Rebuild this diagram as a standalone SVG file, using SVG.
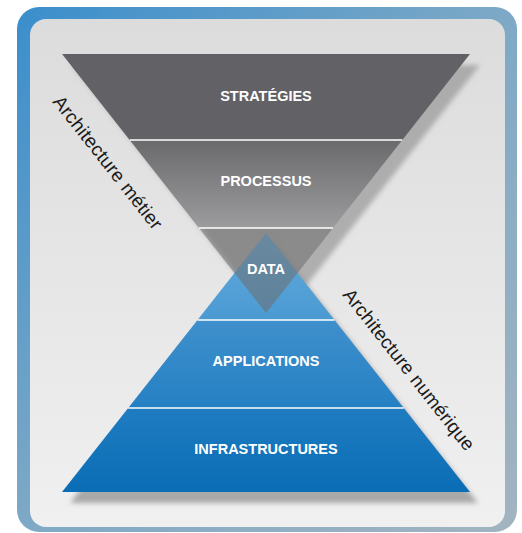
<svg xmlns="http://www.w3.org/2000/svg" width="522" height="533" viewBox="0 0 522 533">
<defs>
<linearGradient id="frameG" x1="0" y1="0" x2="1" y2="1">
<stop offset="0" stop-color="#3a8ecc"/>
<stop offset="0.5" stop-color="#7ea9c6"/>
<stop offset="1" stop-color="#a3b4c0"/>
</linearGradient>
<linearGradient id="panelG" x1="0" y1="0" x2="0" y2="1">
<stop offset="0" stop-color="#dcdcdc"/>
<stop offset="1" stop-color="#f0f0f0"/>
</linearGradient>
<linearGradient id="procG" x1="0" y1="140" x2="0" y2="228" gradientUnits="userSpaceOnUse">
<stop offset="0" stop-color="#6a6a6c"/>
<stop offset="1" stop-color="#9c9c9e"/>
</linearGradient>
<linearGradient id="dataTopG" x1="0" y1="233" x2="0" y2="320" gradientUnits="userSpaceOnUse">
<stop offset="0" stop-color="#64abdd"/>
<stop offset="1" stop-color="#4a9ad2"/>
</linearGradient>
<linearGradient id="appG" x1="0" y1="320" x2="0" y2="408" gradientUnits="userSpaceOnUse">
<stop offset="0" stop-color="#3f90cc"/>
<stop offset="1" stop-color="#2580c3"/>
</linearGradient>
<linearGradient id="infraG" x1="0" y1="408" x2="0" y2="492" gradientUnits="userSpaceOnUse">
<stop offset="0" stop-color="#1f7cc1"/>
<stop offset="1" stop-color="#0a6db5"/>
</linearGradient>
<filter id="blur" x="-10%" y="-10%" width="120%" height="120%">
<feGaussianBlur stdDeviation="2.5"/>
</filter>
</defs>
<style>
.lbl{font-family:"Liberation Sans",Arial,sans-serif;font-weight:bold;font-size:14.5px;fill:#ffffff;text-anchor:middle}
.side{font-family:"Liberation Sans",Arial,sans-serif;font-size:19px;fill:#1a1a1a}
.sep{stroke:#ffffff;stroke-width:1.5}
</style>
<g id="frame">
<rect x="17" y="7" width="500" height="525" rx="22" fill="url(#frameG)"/>
<rect x="30" y="19" width="475" height="508" rx="16" fill="url(#panelG)"/>
</g>
<g id="shadows" filter="url(#blur)">
<polygon points="72,65 480,65 276,324" fill="#8a8a8a" opacity="0.6"/>
<polygon points="274,243 478,503 70,503" fill="#8a8a8a" opacity="0.7"/>
</g>
<g id="strategies">
<polygon points="62,54 470,54 402.3,140 129.7,140" fill="#626165"/>
<text class="lbl" x="266" y="101">STRATÉGIES</text>
</g>
<g id="processus">
<polygon points="129.7,140 402.3,140 333,228 199,228" fill="url(#procG)"/>
<text class="lbl" x="266" y="186">PROCESSUS</text>
</g>
<g id="infrastructures">
<polygon points="128.2,408 403.8,408 470,492 62,492" fill="url(#infraG)"/>
<text class="lbl" x="266" y="454">INFRASTRUCTURES</text>
</g>
<g id="applications">
<polygon points="197.5,320 334.5,320 403.8,408 128.2,408" fill="url(#appG)"/>
<text class="lbl" x="266" y="366">APPLICATIONS</text>
</g>
<g id="data">
<polygon points="266,233 334.5,320 197.5,320" fill="url(#dataTopG)"/>
<polygon points="199,228 333,228 266,313" fill="#6e6e6e" opacity="0.55"/>
<text class="lbl" x="266" y="274">DATA</text>
</g>
<g id="separators">
<line class="sep" x1="129.7" y1="140" x2="402.3" y2="140"/>
<line class="sep" x1="199" y1="228" x2="333" y2="228"/>
<line class="sep" x1="197.5" y1="320" x2="334.5" y2="320"/>
<line class="sep" x1="128.2" y1="408" x2="403.8" y2="408"/>
</g>
<g id="architecture-metier">
<text class="side" transform="translate(52,102) rotate(51.8)" textLength="164" lengthAdjust="spacing">Architecture métier</text>
</g>
<g id="architecture-numerique">
<text class="side" transform="translate(342,295) rotate(51.8)" textLength="200" lengthAdjust="spacing">Architecture numérique</text>
</g>
</svg>
